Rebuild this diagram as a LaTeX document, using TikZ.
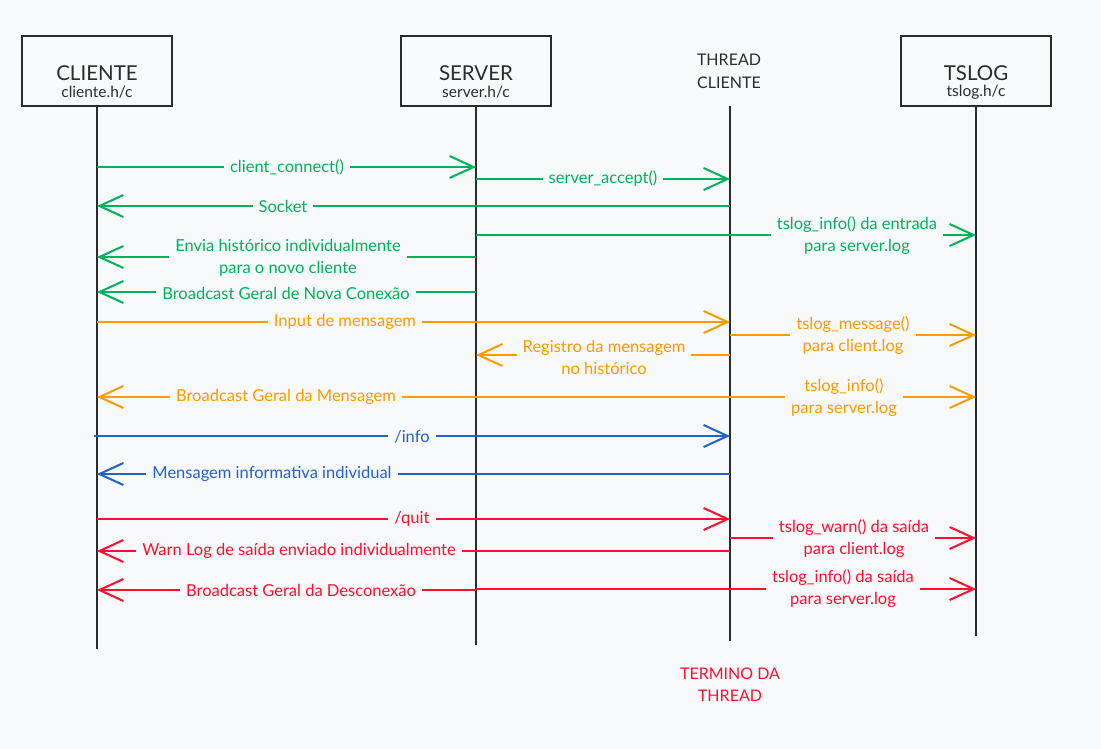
\documentclass[tikz,border=0pt]{standalone}
\usepackage{fontspec}
\setmainfont{Lato}
\usetikzlibrary{arrows.meta}
\definecolor{bg}{HTML}{F8F9FB}
\definecolor{ink}{HTML}{2B2B2B}
\definecolor{cgreen}{HTML}{00B359}
\definecolor{corange}{HTML}{FF9A00}
\definecolor{cblue}{HTML}{1F63C9}
\definecolor{cred}{HTML}{FF0F2D}
\tikzset{
  actor/.style={draw=ink,line width=2pt,minimum width=150pt,minimum height=70pt,fill=bg,align=center,inner sep=0pt},
  life/.style={draw=ink,line width=2.5pt},
  msg/.style={line width=2pt,-{Straight Barb[length=24pt,width=22pt,line width=2pt]}},
  lbl/.style={fill=bg,inner xsep=6pt,inner ysep=1pt,align=center,font=\fontsize{16.5}{22}\selectfont},
  ttl/.style={text=ink,font=\fontsize{20.5}{21}\selectfont},
  sub/.style={text=ink,font=\fontsize{15.5}{16}\selectfont},
}
\begin{document}
\begin{tikzpicture}[x=1pt,y=-1pt]
\fill[bg] (0,0) rectangle (1101,749);
\useasboundingbox (0,0) rectangle (1101,749);
% actors
\node[actor] (cli) at (97,71) {};
\node[ttl] (clit) at (97,73) {CLIENTE};
\node[sub] (clis) at (97,92) {cliente.h/c};
\node[actor] (srv) at (476,71) {};
\node[ttl] (srvt) at (476,73) {SERVER};
\node[sub] (srvs) at (476,92) {server.h/c};
\node[text=ink,align=center,font=\fontsize{16}{23}\selectfont] (thr) at (729,71) {THREAD\\CLIENTE};
\node[actor] (tsl) at (976,71) {};
\node[ttl] (tslt) at (976,73) {TSLOG};
\node[sub] (tsls) at (976,92) {tslog.h/c};
% lifeline ends
\coordinate (cliE) at (97,649);
\coordinate (srvE) at (476,645);
\coordinate (thrT) at (730,106);
\coordinate (thrE) at (730,641);
\coordinate (tslE) at (976,636);
\draw[life] (cli.south) -- (cliE);
\draw[life] (srv.south) -- (srvE);
\draw[life] (thrT) -- (thrE);
\draw[life] (tsl.south) -- (tslE);
% coordinates on lifelines
\foreach \n/\y in {1/167,2/179,3/206,4/235,5/257,6/292,7/322,8/335,9/355,10/397,12/436,13/474,14/519,15/538,16/551,17/589,18/590}{
  \coordinate (C\n) at (97,\y);
  \coordinate (S\n) at (476,\y);
  \coordinate (T\n) at (730,\y);
  \coordinate (L\n) at (976,\y);
}
\coordinate (C12) at (94,436);
% green
\draw[msg,cgreen] (C1) -- (S1);
\node[lbl,text=cgreen] (m1) at (287,167) {client\_connect()};
\draw[msg,cgreen] (S2) -- (T2);
\node[lbl,text=cgreen] (m2) at (603,179) {server\_accept()};
\draw[msg,cgreen] (T3) -- (C3);
\node[lbl,text=cgreen] (m3) at (283,206) {Socket};
\draw[msg,cgreen] (S4) -- (L4);
\node[lbl,text=cgreen] (m4) at (857,236) {tslog\_info() da entrada\\para server.log};
\draw[msg,cgreen] (S5) -- (C5);
\node[lbl,text=cgreen] (m5) at (288,258) {Envia histórico individualmente\\para o novo cliente};
\draw[msg,cgreen] (S6) -- (C6);
\node[lbl,text=cgreen] (m6) at (286,293) {Broadcast Geral de Nova Conexão};
% orange
\draw[msg,corange] (C7) -- (T7);
\node[lbl,text=corange] (m7) at (345,322) {Input de mensagem};
\draw[msg,corange] (T8) -- (L8);
\node[lbl,text=corange] (m8) at (853,336) {tslog\_message()\\para client.log};
\draw[msg,corange] (T9) -- (S9);
\node[lbl,text=corange] (m9) at (604,357) {Registro da mensagem\\no histórico};
\draw[msg,corange] (S10) -- (L10);
\node[lbl,text=corange] (m10) at (844,398) {tslog\_info()\\para server.log};
\draw[msg,corange] (S10) -- (C10);
\node[lbl,text=corange] (m11) at (286,397) {Broadcast Geral da Mensagem};
% blue
\draw[msg,cblue] (C12) -- (T12);
\node[lbl,text=cblue] (m12) at (412,437) {/info};
\draw[msg,cblue] (T13) -- (C13);
\node[lbl,text=cblue] (m13) at (272,474) {Mensagem informativa individual};
% red
\draw[msg,cred] (C14) -- (T14);
\node[lbl,text=cred] (m14) at (412,519) {/quit};
\draw[msg,cred] (T15) -- (L15);
\node[lbl,text=cred] (m15) at (854,539) {tslog\_warn() da saída\\para client.log};
\draw[msg,cred] (T16) -- (C16);
\node[lbl,text=cred] (m16) at (299,551) {Warn Log de saída enviado individualmente};
\draw[msg,cred] (S17) -- (L17);
\node[lbl,text=cred] (m17) at (843,589) {tslog\_info() da saída\\para server.log};
\draw[msg,cred] (S18) -- (C18);
\node[lbl,text=cred] (m18) at (301,590) {Broadcast Geral da Desconexão};
\node[text=cred,align=center,font=\fontsize{16}{22}\selectfont] (end) at (730,685) {TERMINO DA\\THREAD};
\end{tikzpicture}
\end{document}
